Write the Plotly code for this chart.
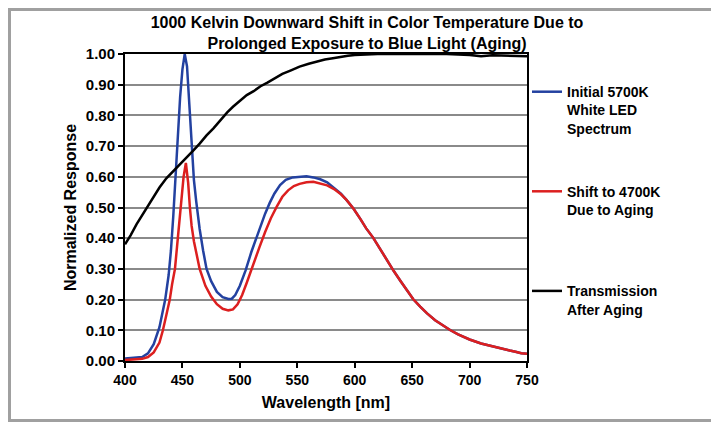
import plotly.graph_objects as go

# ---- data ----
initial_wl = [400, 405, 410, 415, 420, 425, 430, 435, 438, 440, 442, 445, 448, 450, 452,
              454, 456, 458, 460, 462, 465, 468, 471, 475, 480, 485, 490, 493, 496, 500,
              505, 510, 515, 518, 522, 526, 530, 535, 540, 546, 552, 558, 564, 570, 576,
              582, 588, 593, 599, 605, 610, 616, 622, 628, 634, 640, 646, 651, 657, 663,
              670, 677, 683, 690, 700, 710, 720, 728, 735, 740, 745, 750]
initial_val = [0.008, 0.009, 0.010, 0.013, 0.025, 0.055, 0.11, 0.20, 0.28, 0.36, 0.47, 0.68, 0.86, 0.95, 1.00,
               0.96, 0.84, 0.70, 0.59, 0.52, 0.43, 0.36, 0.30, 0.26, 0.225, 0.208, 0.202, 0.203, 0.215, 0.245,
               0.295, 0.355, 0.41, 0.44, 0.48, 0.515, 0.545, 0.573, 0.59, 0.598, 0.601, 0.602, 0.598, 0.592, 0.582,
               0.565, 0.545, 0.524, 0.496, 0.462, 0.432, 0.402, 0.365, 0.33, 0.293, 0.26, 0.228, 0.201, 0.177, 0.155,
               0.133, 0.115, 0.101, 0.087, 0.070, 0.057, 0.047, 0.040, 0.034, 0.030, 0.025, 0.024]

aged_wl = [400, 405, 410, 415, 420, 425, 430, 433, 436, 439, 441, 443.5, 446, 448.5, 451,
           453, 455, 456.5, 458, 460, 462, 465, 470, 475, 480, 485, 490, 494, 498, 502,
           506, 511, 517, 522, 527, 532, 537, 542, 547, 552, 558, 564, 570, 576, 582,
           588, 593, 599, 605, 610, 616, 622, 628, 634, 640, 646, 651, 657, 663, 670,
           677, 683, 690, 700, 710, 720, 728, 735, 740, 745, 750]
aged_val = [0.003, 0.004, 0.005, 0.007, 0.013, 0.028, 0.06, 0.10, 0.15, 0.20, 0.25, 0.30, 0.40, 0.50, 0.60,
            0.645, 0.58, 0.50, 0.44, 0.39, 0.35, 0.30, 0.245, 0.21, 0.185, 0.17, 0.165, 0.168, 0.185, 0.215,
            0.255, 0.31, 0.37, 0.42, 0.465, 0.502, 0.535, 0.556, 0.57, 0.577, 0.582, 0.584, 0.578, 0.572, 0.56,
            0.543, 0.524, 0.496, 0.462, 0.432, 0.402, 0.365, 0.33, 0.293, 0.26, 0.228, 0.201, 0.177, 0.155, 0.133,
            0.115, 0.101, 0.087, 0.070, 0.057, 0.047, 0.040, 0.034, 0.030, 0.025, 0.024]

trans_wl = [400, 405, 410, 415, 419, 425, 430, 436, 442, 448, 454, 460, 465, 471, 477,
            483, 489, 494, 500, 506, 512, 518, 524, 530, 537, 544, 552, 560, 567, 574,
            581, 588, 594, 600, 610, 620, 640, 660, 680, 700, 710, 720, 735, 745, 750]
trans_val = [0.38, 0.41, 0.445, 0.475, 0.50, 0.537, 0.565, 0.595, 0.618, 0.64, 0.662, 0.688, 0.708, 0.735, 0.758,
             0.785, 0.81, 0.828, 0.847, 0.866, 0.879, 0.895, 0.907, 0.92, 0.935, 0.946, 0.959, 0.968, 0.976, 0.982,
             0.986, 0.991, 0.994, 0.997, 0.999, 1.0, 1.0, 1.0, 1.0, 0.997, 0.993, 0.996, 0.995, 0.992, 0.993]

series_names = ["Initial 5700K<br>White LED<br>Spectrum",
                "Shift to 4700K<br>Due to Aging<br> ",
                "Transmission<br>After Aging"]
x_ticks = [400, 450, 500, 550, 600, 650, 700, 750]
y_ticks = [0.0, 0.1, 0.2, 0.3, 0.4, 0.5, 0.6, 0.7, 0.8, 0.9, 1.0]

FONT = "Liberation Sans, Arial, sans-serif"

# the page body has an 8px margin, so the figure is 8px smaller in each direction
W, H = 711, 415

fig = go.Figure()
fig.add_trace(go.Scatter(x=initial_wl, y=initial_val, mode="lines", name=series_names[0],
                         line=dict(color="#2341a0", width=2.5), legendgroup="a"))
fig.add_trace(go.Scatter(x=aged_wl, y=aged_val, mode="lines", name=series_names[1],
                         line=dict(color="#dc1f1f", width=2.5), legendgroup="b"))
fig.add_trace(go.Scatter(x=trans_wl, y=trans_val, mode="lines", name=series_names[2],
                         line=dict(color="#000000", width=2.5), legendgroup="c"))

fig.update_layout(
    width=W, height=H,
    margin=dict(l=117, r=192, t=46, b=62),
    paper_bgcolor="white", plot_bgcolor="white",
    font=dict(family=FONT, color="black"),
    title=dict(text="<b>1000 Kelvin Downward Shift in Color Temperature Due to<br>Prolonged Exposure to Blue Light (Aging)</b>",
               x=0.602, xanchor="center", xref="paper", y=1 - 20 / H, yanchor="top",
               font=dict(family=FONT, size=16, color="black")),
    showlegend=True,
    legend=dict(x=1.0, xanchor="left", y=0.928, yanchor="top",
                font=dict(family=FONT, size=14, color="black", weight="bold"),
                valign="top", tracegroupgap=42, bgcolor="rgba(0,0,0,0)",
                itemwidth=30),
    xaxis=dict(range=[400, 750], tickvals=x_ticks, ticktext=[str(v) for v in x_ticks],
               showgrid=False, zeroline=False, showline=True, linecolor="black", linewidth=2,
               mirror=True, ticks="outside", ticklen=5, tickcolor="black", tickwidth=1.5,
               tickfont=dict(family=FONT, size=14, color="black", weight="bold"),
               title=dict(text="<b>Wavelength [nm]</b>", font=dict(family=FONT, size=16, color="black"),
                          standoff=10)),
    yaxis=dict(range=[0, 1.0], tickvals=y_ticks, ticktext=[f"{v:.2f}" for v in y_ticks],
               showgrid=True, gridcolor="#8a8a8a", gridwidth=1.5, zeroline=False,
               showline=True, linecolor="black", linewidth=2, mirror=True,
               ticks="outside", ticklen=5, tickcolor="black", tickwidth=1.5,
               tickfont=dict(family=FONT, size=15, color="black", weight="bold"),
               title=dict(text="<b>Normalized Response</b>", font=dict(family=FONT, size=16, color="black"),
                          standoff=5)),
)

# outer gray frame of the picture (left, top, bottom edges)
fig.add_shape(type="rect", xref="paper", yref="paper",
              x0=(1.5 - 117) / 402, x1=(W + 20 - 117) / 402,
              y0=(353 - 412.5) / 307, y1=(353 - 1.5) / 307,
              line=dict(color="#a0a0a0", width=3), fillcolor="rgba(0,0,0,0)", layer="below")

fig.write_html("out.html")
